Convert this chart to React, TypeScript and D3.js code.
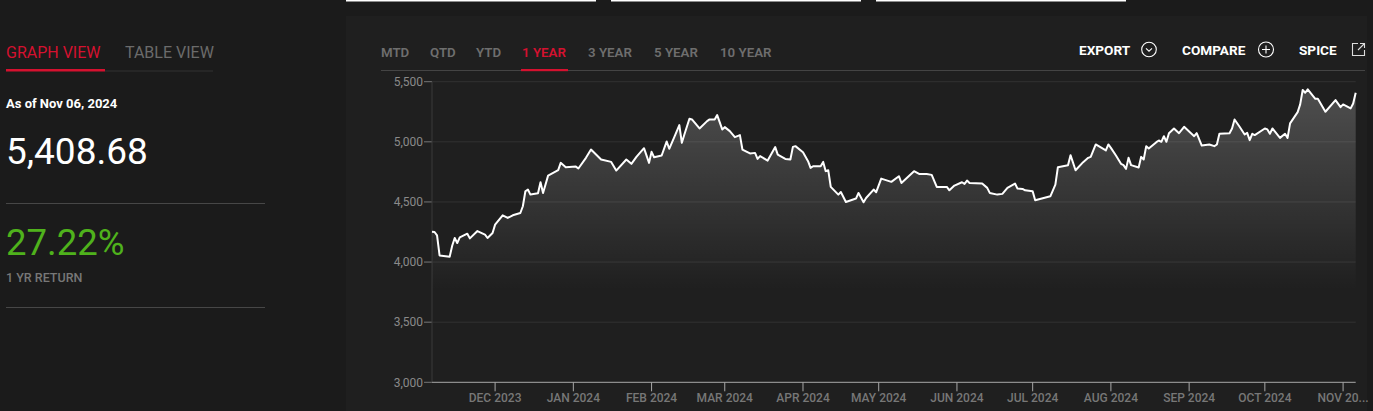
import React, { useMemo } from "react";
import * as d3 from "d3";

// ---- data ----
const asOfLabel = "As of Nov 06, 2024";
const lastValueLabel = "5,408.68";
const returnLabel = "27.22%";
const returnCaption = "1 YR RETURN";
const viewTabs = ["GRAPH VIEW", "TABLE VIEW"];
const periodTabs = ["MTD", "QTD", "YTD", "1 YEAR", "3 YEAR", "5 YEAR", "10 YEAR"];
const actions = ["EXPORT", "COMPARE", "SPICE"];
const yTicks = [3000, 3500, 4000, 4500, 5000, 5500];
const xTickDates = [
  "2023-12-01", "2024-01-01", "2024-02-01", "2024-03-01", "2024-04-01", "2024-05-01",
  "2024-06-01", "2024-07-01", "2024-08-01", "2024-09-01", "2024-10-01", "2024-11-01",
];
const xTickLabels = [
  "DEC 2023", "JAN 2024", "FEB 2024", "MAR 2024", "APR 2024", "MAY 2024",
  "JUN 2024", "JUL 2024", "AUG 2024", "SEP 2024", "OCT 2024", "NOV 20...",
];
const domainDates = ["2023-11-06", "2024-11-06"];

const closes: [string, number][] = [
  ["2023-11-06", 4252], ["2023-11-07", 4250], ["2023-11-08", 4222], ["2023-11-09", 4055],
  ["2023-11-13", 4044], ["2023-11-14", 4136], ["2023-11-15", 4200], ["2023-11-16", 4158],
  ["2023-11-17", 4206], ["2023-11-20", 4236], ["2023-11-21", 4197], ["2023-11-24", 4258],
  ["2023-11-27", 4228], ["2023-11-28", 4200], ["2023-11-30", 4242],
  ["2023-12-01", 4311], ["2023-12-04", 4389], ["2023-12-06", 4367], ["2023-12-08", 4389],
  ["2023-12-11", 4408], ["2023-12-12", 4464], ["2023-12-13", 4589], ["2023-12-14", 4603],
  ["2023-12-15", 4561], ["2023-12-18", 4572], ["2023-12-19", 4664], ["2023-12-20", 4575],
  ["2023-12-22", 4719], ["2023-12-26", 4764], ["2023-12-27", 4825], ["2023-12-29", 4789],
  ["2024-01-02", 4794], ["2024-01-03", 4778], ["2024-01-06", 4867], ["2024-01-08", 4936],
  ["2024-01-10", 4894], ["2024-01-12", 4853], ["2024-01-16", 4833], ["2024-01-18", 4761],
  ["2024-01-22", 4853], ["2024-01-24", 4817], ["2024-01-26", 4875], ["2024-01-29", 4947],
  ["2024-01-31", 4825],
  ["2024-02-01", 4917], ["2024-02-02", 4872], ["2024-02-05", 4886], ["2024-02-07", 5003],
  ["2024-02-08", 4942], ["2024-02-10", 5039], ["2024-02-12", 5139], ["2024-02-13", 4992],
  ["2024-02-14", 5061], ["2024-02-16", 5192], ["2024-02-17", 5186], ["2024-02-20", 5111],
  ["2024-02-23", 5172], ["2024-02-24", 5186], ["2024-02-26", 5186], ["2024-02-27", 5222],
  ["2024-02-29", 5103],
  ["2024-03-01", 5122], ["2024-03-03", 5089], ["2024-03-05", 5039], ["2024-03-07", 5056],
  ["2024-03-08", 4936], ["2024-03-11", 4903], ["2024-03-13", 4908], ["2024-03-14", 4858],
  ["2024-03-15", 4881], ["2024-03-18", 4844], ["2024-03-21", 4956], ["2024-03-22", 4894],
  ["2024-03-25", 4858], ["2024-03-27", 4853], ["2024-03-28", 4958], ["2024-03-29", 4964],
  ["2024-04-01", 4914], ["2024-04-03", 4839], ["2024-04-04", 4783], ["2024-04-05", 4797],
  ["2024-04-08", 4797], ["2024-04-09", 4833], ["2024-04-10", 4756], ["2024-04-11", 4764],
  ["2024-04-12", 4625], ["2024-04-15", 4561], ["2024-04-16", 4583], ["2024-04-18", 4500],
  ["2024-04-22", 4528], ["2024-04-23", 4575], ["2024-04-25", 4497], ["2024-04-26", 4533],
  ["2024-04-29", 4603], ["2024-04-30", 4581],
  ["2024-05-02", 4694], ["2024-05-06", 4667], ["2024-05-09", 4714], ["2024-05-10", 4658],
  ["2024-05-15", 4756], ["2024-05-17", 4733], ["2024-05-20", 4733], ["2024-05-22", 4725],
  ["2024-05-24", 4625], ["2024-05-28", 4625], ["2024-05-29", 4597], ["2024-05-31", 4636],
  ["2024-06-03", 4664], ["2024-06-04", 4650], ["2024-06-05", 4678], ["2024-06-06", 4658],
  ["2024-06-11", 4653], ["2024-06-13", 4617], ["2024-06-14", 4575], ["2024-06-17", 4561],
  ["2024-06-19", 4567], ["2024-06-21", 4617], ["2024-06-24", 4653], ["2024-06-25", 4611],
  ["2024-06-27", 4608], ["2024-06-28", 4597],
  ["2024-07-01", 4589], ["2024-07-02", 4514], ["2024-07-08", 4547], ["2024-07-10", 4644],
  ["2024-07-11", 4789], ["2024-07-15", 4806], ["2024-07-16", 4889], ["2024-07-18", 4764],
  ["2024-07-21", 4831], ["2024-07-23", 4867], ["2024-07-24", 4875], ["2024-07-26", 4978],
  ["2024-07-30", 4928], ["2024-07-31", 4978],
  ["2024-08-01", 4950], ["2024-08-03", 4886], ["2024-08-05", 4817], ["2024-08-06", 4806],
  ["2024-08-07", 4775], ["2024-08-08", 4867], ["2024-08-09", 4806], ["2024-08-12", 4786],
  ["2024-08-13", 4875], ["2024-08-14", 4853], ["2024-08-15", 4964], ["2024-08-16", 4944],
  ["2024-08-19", 4997], ["2024-08-20", 5011], ["2024-08-21", 5000], ["2024-08-22", 5047],
  ["2024-08-23", 5000], ["2024-08-24", 5072], ["2024-08-26", 5111], ["2024-08-28", 5072],
  ["2024-08-30", 5125],
  ["2024-09-03", 5047], ["2024-09-04", 5072], ["2024-09-06", 4969], ["2024-09-09", 4978],
  ["2024-09-11", 4964], ["2024-09-12", 4978], ["2024-09-13", 5067], ["2024-09-17", 5072],
  ["2024-09-18", 5111], ["2024-09-19", 5186], ["2024-09-21", 5125], ["2024-09-23", 5061],
  ["2024-09-24", 5075], ["2024-09-25", 5014], ["2024-09-26", 5067], ["2024-09-27", 5056],
  ["2024-10-01", 5111], ["2024-10-02", 5103], ["2024-10-03", 5067], ["2024-10-04", 5111],
  ["2024-10-07", 5033], ["2024-10-09", 5067], ["2024-10-10", 5033], ["2024-10-11", 5153],
  ["2024-10-14", 5247], ["2024-10-15", 5311], ["2024-10-16", 5431], ["2024-10-17", 5408],
  ["2024-10-18", 5436], ["2024-10-21", 5358], ["2024-10-22", 5358], ["2024-10-25", 5250],
  ["2024-10-29", 5347], ["2024-10-31", 5289],
  ["2024-11-01", 5311], ["2024-11-04", 5278], ["2024-11-05", 5319], ["2024-11-06", 5408.68],
];

const parse = d3.timeParse("%Y-%m-%d");
const FONT = "Roboto, 'Noto Sans', sans-serif";

export default function App() {
  const W = 1373;
  const H = 411;
  const plot = { left: 432, right: 1355.7, top: 81.7, bottom: 382.3 };

  const { x, y, linePath, areaPath } = useMemo(() => {
    const x = d3
      .scaleTime()
      .domain(domainDates.map((d) => parse(d) as Date))
      .range([plot.left, plot.right]);
    const y = d3.scaleLinear().domain([3000, 5500]).range([plot.bottom, plot.top]);
    const pts = closes.map(([d, v]) => ({ date: parse(d) as Date, v }));
    const line = d3
      .line<{ date: Date; v: number }>()
      .x((p) => x(p.date))
      .y((p) => y(p.v));
    const area = d3
      .area<{ date: Date; v: number }>()
      .x((p) => x(p.date))
      .y0(plot.bottom)
      .y1((p) => y(p.v));
    return { x, y, linePath: line(pts) || "", areaPath: area(pts) || "" };
  }, []);

  const fmt = d3.format(",");
  const tabXs = [381, 430, 476, 522, 588, 654, 720];

  return (
    <div style={{ position: "absolute", left: 0, top: 0, width: W, height: H, overflow: "hidden" }}>
      <svg width={W} height={H} style={{ display: "block" }} fontFamily={FONT}>
        <defs>
          <linearGradient id="areaGrad" gradientUnits="userSpaceOnUse" x1="0" y1={plot.top} x2="0" y2={290}>
            <stop offset="0" stopColor="#ffffff" stopOpacity={0.22} />
            <stop offset="1" stopColor="#ffffff" stopOpacity={0} />
          </linearGradient>
        </defs>
        <rect x={0} y={0} width={W} height={H} fill="#1b1b1b" />
        {/* top white bars */}
        <rect x={346} y={0} width={250} height={1.5} fill="#ffffff" />
        <rect x={611} y={0} width={250} height={1.5} fill="#ffffff" />
        <rect x={876} y={0} width={250} height={1.5} fill="#ffffff" />

        {/* left panel */}
        <text x={6} y={58.3} fontSize={16} fill="#d5112f">{viewTabs[0]}</text>
        <text x={125} y={58.3} fontSize={16} fill="#6b6b6b">{viewTabs[1]}</text>
        <line x1={105} x2={213} y1={71} y2={71} stroke="#333" strokeWidth={1} />
        <rect x={6} y={69} width={99} height={2.5} fill="#d5112f" />
        <text x={6} y={108} fontSize={13} fontWeight={700} fill="#ffffff">{asOfLabel}</text>
        <text x={6} y={164} fontSize={37} fill="#ffffff">{lastValueLabel}</text>
        <line x1={6} x2={265} y1={203.5} y2={203.5} stroke="#474747" strokeWidth={1} />
        <text x={6} y={255} fontSize={36.5} fill="#4fb21c">{returnLabel}</text>
        <text x={6} y={282} fontSize={12.5} fontWeight={500} fill="#777">{returnCaption}</text>
        <line x1={6} x2={265} y1={307.5} y2={307.5} stroke="#474747" strokeWidth={1} />

        {/* chart panel */}
        <rect x={346} y={16} width={1021} height={H - 16} fill="#1f1f1f" />

        {periodTabs.map((t, i) => (
          <text
            key={t}
            x={tabXs[i]}
            y={56.5}
            fontSize={13.3}
            fontWeight={600}
            fill={t === "1 YEAR" ? "#d5112f" : "#6e6e6e"}
          >
            {t}
          </text>
        ))}
        <line x1={381} x2={1365} y1={70.5} y2={70.5} stroke="#444" strokeWidth={1} />
        <rect x={521} y={69} width={47} height={2.2} fill="#d5112f" />

        {/* actions */}
        <text x={1079} y={54.5} fontSize={13.6} fontWeight={700} fill="#ffffff">{actions[0]}</text>
        <circle cx={1149} cy={49.5} r={7.3} fill="none" stroke="#fff" strokeWidth={1.1} />
        <path d="M1146,48.3 L1149,51.2 L1152,48.3" fill="none" stroke="#fff" strokeWidth={1.1} />
        <text x={1182} y={54.5} fontSize={13.6} fontWeight={700} fill="#ffffff">{actions[1]}</text>
        <circle cx={1266} cy={49.5} r={7.5} fill="none" stroke="#fff" strokeWidth={1.1} />
        <path d="M1262,49.5 H1270 M1266,45.5 V53.5" fill="none" stroke="#fff" strokeWidth={1.1} />
        <text x={1299} y={54.5} fontSize={13.6} fontWeight={700} fill="#ffffff">{actions[2]}</text>
        <path d="M1358,43.5 H1352.5 V55.5 H1364.5 V50" fill="none" stroke="#ddd" strokeWidth={1.1} />
        <path d="M1358,50 L1364.5,43.5 M1360,43.5 H1364.5 V48" fill="none" stroke="#ddd" strokeWidth={1.1} />

        {/* grid */}
        {yTicks.map((t) => (
          <g key={t}>
            {t !== 3000 && (
              <line x1={plot.left} x2={plot.right} y1={y(t)} y2={y(t)} stroke="#323232" strokeWidth={1} />
            )}
            <line x1={424} x2={plot.left} y1={y(t)} y2={y(t)} stroke="#777" strokeWidth={1} />
            <text x={423} y={y(t)} dy="0.35em" textAnchor="end" fontSize={12} fill="#8a8a8a">
              {fmt(t)}
            </text>
          </g>
        ))}
        <line x1={plot.left} x2={plot.left} y1={plot.top} y2={plot.bottom} stroke="#3a3a3a" strokeWidth={1} />

        {/* area + line */}
        <path d={areaPath} fill="url(#areaGrad)" />
        <path d={linePath} fill="none" stroke="#ffffff" strokeWidth={2} strokeLinejoin="round" />

        {/* x axis */}
        <line x1={plot.left} x2={plot.right} y1={plot.bottom} y2={plot.bottom} stroke="#a8a8a8" strokeWidth={1} />
        {xTickDates.map((d, i) => {
          const px = x(parse(d) as Date);
          return (
            <g key={d}>
              <line x1={px} x2={px} y1={plot.bottom} y2={plot.bottom + 9} stroke="#a8a8a8" strokeWidth={1} />
              <text x={px} y={401.5} textAnchor="middle" fontSize={12} fontWeight={500} fill="#777">
                {xTickLabels[i]}
              </text>
            </g>
          );
        })}
      </svg>
    </div>
  );
}
